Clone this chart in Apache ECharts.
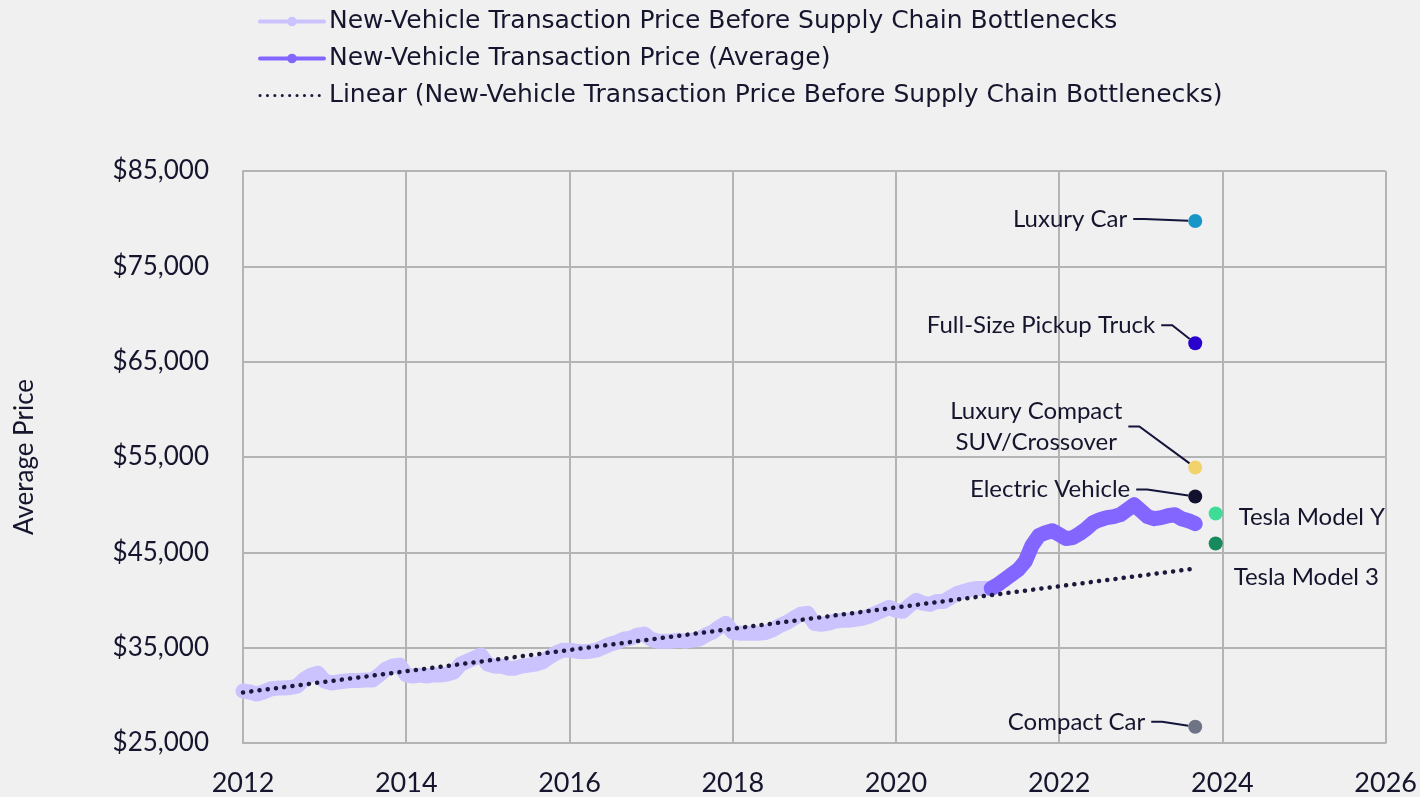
<!DOCTYPE html>
<html>
<head>
<meta charset="utf-8">
<script src="https://cdn.jsdelivr.net/npm/echarts@6/dist/echarts.min.js"></script>
<style>
  html, body { margin: 0; padding: 0; background: #f0f0f0; }
  #chart { width: 1420px; height: 797px; }
</style>
</head>
<body>
<div id="chart"></div>
<script>
// monthly average transaction price, Jan 2012 .. Mar 2021 (before bottlenecks)
const beforeStart = "2012-01";
const beforeValues = [
  30450, 30350, 30140, 30350, 30660, 30760, 30760, 30820, 30970, 31700, 32120, 32330,
  31500, 31290, 31400, 31500, 31550, 31550, 31600, 31600, 32120, 32750, 33060, 33170,
  32150, 32020, 32120, 32020, 32150, 32120, 32230, 32440, 33270, 33590, 33900, 34210,
  33270, 33060, 33060, 32850, 32850, 33060, 33170, 33270, 33480, 34000, 34420, 34740,
  34740, 34630, 34580, 34630, 34740, 35050, 35370, 35580, 35890, 36000, 36310, 36420,
  35890, 35680, 35680, 35680, 35790, 35680, 35790, 35890, 36310, 36620, 37150, 37560,
  36620, 36520, 36520, 36520, 36520, 36620, 36930, 37350, 37660, 38100, 38500, 38600,
  37560, 37450, 37560, 37770, 37870, 37870, 37980, 38080, 38290, 38600, 38920, 39230,
  38920, 38810, 39440, 39960, 39640, 39540, 39850, 39850, 40270, 40690, 40900, 41110,
  41210, 41210, 41210
];

// monthly average, Mar 2021 .. Sep 2023
const averageStart = "2021-03";
const averageValues = [
  41210, 41630, 42150, 42680, 43200, 44040, 45710, 46750, 47060, 47270,
  46860, 46440, 46540, 46960, 47480, 48110, 48420, 48640, 48740, 48950, 49470, 49990,
  49370, 48740, 48530, 48640, 48840, 48950, 48530, 48320, 48010
];

// linear trend of the pre-bottleneck series (end points)
const trendMonths = ["2012-01", "2023-09"];
const trendValues = [30300, 43300];

// segment prices
const segmentNames = [
  "Luxury Car", "Full-Size Pickup Truck", "Luxury Compact\nSUV/Crossover",
  "Electric Vehicle", "Tesla Model Y", "Tesla Model 3", "Compact Car"
];
const segmentMonths = ["2023-09", "2023-09", "2023-09", "2023-09", "2023-12", "2023-12", "2023-09"];
const segmentValues = [79750, 66930, 53900, 50860, 49080, 45920, 26700];

const yTicks = [25000, 35000, 45000, 55000, 65000, 75000, 85000];

// styling kept apart from the data
const segmentColors = ["#1896c8", "#2a00cc", "#f2d36b", "#121230", "#3ddc97", "#168a5a", "#6e7385"];
const labelSpots = [
  { dx: -62, dy: -2, align: "right", line: true },
  { dx: -34, dy: -18, align: "right", line: true },
  { dx: -159, dy: -41, align: "center", line: true },
  { dx: -59, dy: -7, align: "right", line: true },
  { dx: 17, dy: 4, align: "left", line: false },
  { dx: 12, dy: 34, align: "left", line: false },
  { dx: -44, dy: -5, align: "right", line: true }
];

const FONT = "Lato";
const INK = "#15152e";
const GRID = "#b4b4b4";

function monthToYear(s) {
  const [y, m] = s.split("-").map(Number);
  return y + (m - 1) / 12;
}
function seriesFrom(start, values) {
  const base = monthToYear(start);
  return values.map((v, i) => [base + i / 12, v]);
}

const chart = echarts.init(document.getElementById("chart"), null, { renderer: "canvas" });

const segData = segmentNames.map((n, i) => ({
  name: n,
  value: [monthToYear(segmentMonths[i]), segmentValues[i]],
  itemStyle: { color: segmentColors[i], opacity: 1 },
  label: { align: labelSpots[i].align },
  labelLine: { show: labelSpots[i].line }
}));

chart.setOption({
  backgroundColor: "#f0f0f0",
  animation: false,
  textStyle: { fontFamily: FONT },
  legend: {
    orient: "vertical",
    left: 253,
    top: 4,
    itemWidth: 64,
    itemHeight: 12,
    itemGap: 12,
    textStyle: { fontSize: 25, color: INK, fontFamily: "DejaVu Sans" },
    data: [
      { name: "New-Vehicle Transaction Price Before Supply Chain Bottlenecks", lineStyle: { width: 4 } },
      { name: "New-Vehicle Transaction Price (Average)", lineStyle: { width: 4 } },
      {
        name: "Linear (New-Vehicle Transaction Price Before Supply Chain Bottlenecks)",
        lineStyle: { width: 3, type: [0.1, 7.3] },
        itemStyle: { opacity: 0 }
      }
    ]
  },
  grid: { left: 243, right: 32, top: 171, bottom: 53, containLabel: false },
  xAxis: {
    type: "value",
    min: 2012, max: 2026, interval: 2,
    axisLine: { show: true, lineStyle: { color: GRID, width: 2 } },
    axisTick: { show: false },
    splitLine: { show: true, lineStyle: { color: GRID, width: 2 } },
    axisLabel: { fontSize: 27, color: INK, margin: 27, formatter: v => String(v) }
  },
  yAxis: {
    type: "value",
    min: 25000, max: 85000, interval: 5000,
    name: "Average Price",
    nameLocation: "middle",
    nameGap: 205,
    nameTextStyle: { fontSize: 26, color: INK, fontFamily: FONT },
    axisLine: { show: true, lineStyle: { color: GRID, width: 2 } },
    axisTick: { show: false },
    splitLine: { show: true, lineStyle: { color: [GRID, "rgba(0,0,0,0)"], width: 2 } },
    axisLabel: {
      fontSize: 26, color: INK, margin: 34,
      formatter: v => yTicks.includes(v) ? "$" + v.toLocaleString("en-US") : ""
    }
  },
  series: [
    {
      name: "New-Vehicle Transaction Price Before Supply Chain Bottlenecks",
      type: "line",
      data: seriesFrom(beforeStart, beforeValues),
      symbol: "circle", symbolSize: 10, showSymbol: false,
      color: "#cbc3fe",
      lineStyle: { color: "#cbc3fe", width: 15, cap: "round", join: "round" },
      z: 2
    },
    {
      name: "New-Vehicle Transaction Price (Average)",
      type: "line",
      data: seriesFrom(averageStart, averageValues),
      symbol: "circle", symbolSize: 10, showSymbol: false,
      color: "#8366ff",
      lineStyle: { color: "#8366ff", width: 15, cap: "round", join: "round" },
      z: 3
    },
    {
      name: "Linear (New-Vehicle Transaction Price Before Supply Chain Bottlenecks)",
      type: "line",
      data: trendMonths.map((m, i) => [monthToYear(m), trendValues[i]]),
      symbol: "none",
      color: "#1c1a3c",
      lineStyle: { color: "#1c1a3c", width: 4.5, type: [0.1, 8.2], cap: "round" },
      z: 4
    },
    {
      name: "Segments",
      type: "scatter",
      data: segData,
      symbol: "circle",
      symbolSize: 14,
      z: 5,
      label: {
        show: true,
        formatter: p => p.name,
        fontSize: 24,
        lineHeight: 31,
        color: INK,
        fontFamily: FONT,
        padding: [0, 6, 0, 6]
      },
      labelLine: { show: true, length2: 11, lineStyle: { color: "#14143a", width: 2 } },
      labelLayout: p => {
        const s = labelSpots[p.dataIndex];
        const cx = p.rect.x + p.rect.width / 2;
        const cy = p.rect.y + p.rect.height / 2;
        return { x: cx + s.dx, y: cy + s.dy, align: s.align, verticalAlign: "middle" };
      }
    }
  ]
});
</script>
</body>
</html>
